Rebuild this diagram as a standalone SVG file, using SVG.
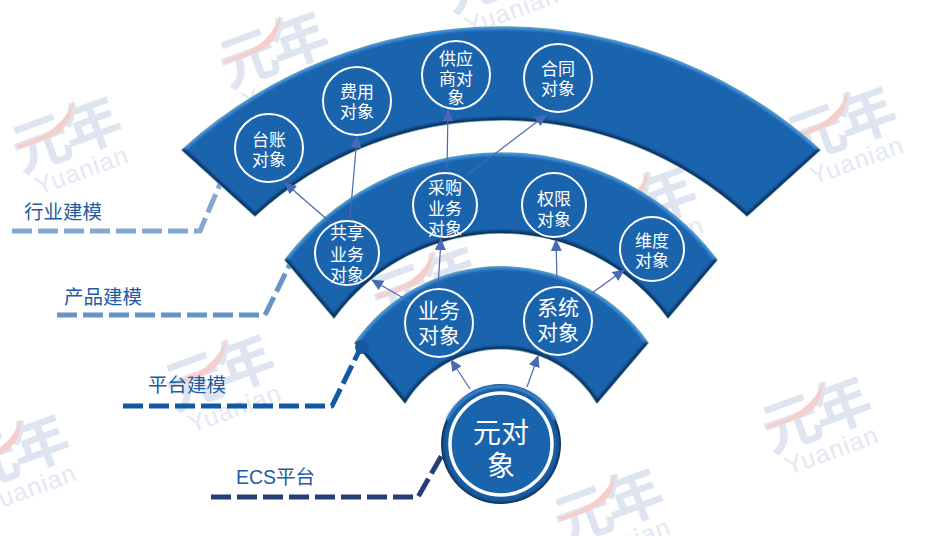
<svg xmlns="http://www.w3.org/2000/svg" width="925" height="536" viewBox="0 0 925 536">
<style>
text{font-family:"Liberation Sans","Noto Sans CJK SC",sans-serif}
.band{fill:#1a63ad;stroke:#6aa6a4;stroke-width:1.5}
.ring{fill:none;stroke:#fff;stroke-width:2}
.t{fill:#fff;font-size:17px;text-anchor:middle}
.t2{fill:#fff;font-size:21px;text-anchor:middle}
.lab{fill:#1f5ca6;font-size:19.5px}
.arr{stroke:#4a68b4;stroke-width:1.2;fill:none;marker-end:url(#ah)}
.lead{fill:none;stroke-width:5;stroke-dasharray:20 6;stroke-linejoin:round}
.hi{fill:none;stroke:#3f8fe0;stroke-width:5;filter:url(#b)}
.lo{fill:none;stroke:#0a2f5e;stroke-width:5;filter:url(#b)}
</style>
<defs>
<marker id="ah" markerUnits="userSpaceOnUse" markerWidth="13" markerHeight="11" refX="11" refY="5.5" orient="auto"><path d="M0,0L12,5.5L0,11z" fill="#4a68b4"/></marker>
<filter id="b" x="-5%" y="-5%" width="110%" height="110%"><feGaussianBlur stdDeviation="1.2"/></filter>
<path id="s1" d="M182,150A475,475 0 0 1 820,150L747,216A363,363 0 0 0 255,216Z"/>
<path id="s2" d="M285,260A271.5,271.5 0 0 1 717,260L668,318A206.5,206.5 0 0 0 334,318Z"/>
<path id="s3" d="M355,343A179,179 0 0 1 648,343L597,403A112,112 0 0 0 405,403Z"/>
<clipPath id="c1"><use href="#s1"/></clipPath>
<clipPath id="c2"><use href="#s2"/></clipPath>
<clipPath id="c3"><use href="#s3"/></clipPath>
<radialGradient id="g0" cx="50%" cy="50%" r="50%"><stop offset="0.86" stop-color="#1a63ad"/><stop offset="0.95" stop-color="#165596"/><stop offset="1" stop-color="#0b2a52"/></radialGradient>
<g id="wm">
<text transform="translate(6,78) rotate(-20)" font-size="58" font-weight="700" fill="#dfe5f0" letter-spacing="-4">元年</text>
<path d="M2,50C30,42 50,30 58,5C58,22 52,30 46,36C34,44 16,50 3,54Z" fill="#f5cfcb"/>
<text transform="translate(24,100) rotate(-20)" font-size="25" fill="#e3e8f2" letter-spacing="1">Yuanian</text>
</g>
</defs>
<rect width="925" height="536" fill="#fff"/>
<g id="watermarks">
<use href="#wm" x="15" y="95"/>
<use href="#wm" x="222" y="10"/>
<use href="#wm" x="790" y="85"/>
<use href="#wm" x="765" y="375"/>
<use href="#wm" x="557" y="467"/>
<use href="#wm" x="-37" y="413"/>
<use href="#wm" x="168" y="333"/>
<use href="#wm" x="375" y="245"/>
<use href="#wm" x="590" y="165"/>
<use href="#wm" x="445" y="-65"/>
</g>
<g id="connectors-leaders">
<path class="lead" stroke="#84a8d2" d="M12,231H200L226,170"/>
<circle cx="227" cy="170" r="6" fill="#84a8d2"/>
<path class="lead" stroke="#6594c8" d="M57,315H265L292,260"/>
<path class="lead" stroke="#1158a5" d="M123,406H332L362,345"/>
<path class="lead" stroke="#253e78" d="M211,497H418L442,455"/>
</g>
<g id="band-top">
<use href="#s1" class="band"/>
<g clip-path="url(#c1)"><path class="hi" d="M182,150A475,475 0 0 1 820,150"/><path class="lo" d="M820,150L747,216A363,363 0 0 0 255,216L182,150"/></g>
</g>
<g id="band-mid">
<use href="#s2" class="band"/>
<g clip-path="url(#c2)"><path class="hi" d="M285,260A271.5,271.5 0 0 1 717,260"/><path class="lo" d="M717,260L668,318A206.5,206.5 0 0 0 334,318L285,260"/></g>
</g>
<g id="band-low">
<use href="#s3" class="band"/>
<g clip-path="url(#c3)"><path class="hi" d="M355,343A179,179 0 0 1 648,343"/><path class="lo" d="M648,343L597,403A112,112 0 0 0 405,403L355,343"/></g>
<circle cx="362" cy="347" r="7" fill="#16589f"/>
</g>
<g id="connectors">
<path class="arr" d="M470,389L451,360"/>
<path class="arr" d="M527,387L538,356"/>
<path class="arr" d="M412,303L372,280"/>
<path class="arr" d="M438,288L441,239"/>
<path class="arr" d="M557,280L556,240"/>
<path class="arr" d="M592,293L624,270"/>
<path class="arr" d="M330,222L285,183"/>
<path class="arr" d="M350,218L357,137"/>
<path class="arr" d="M447,170L448,110"/>
<path class="arr" d="M467,175L546,115"/>
</g>
<g id="n-taizhang"><circle class="ring" cx="269" cy="148" r="34"/><text class="t" x="269" y="146">台账<tspan x="269" dy="20">对象</tspan></text></g>
<g id="n-feiyong"><circle class="ring" cx="357" cy="101" r="34"/><text class="t" x="357" y="98">费用<tspan x="357" dy="20">对象</tspan></text></g>
<g id="n-gongying"><circle class="ring" cx="456" cy="75" r="34"/><text class="t" x="456" y="65">供应<tspan x="456" dy="20">商对</tspan><tspan x="456" dy="19">象</tspan></text></g>
<g id="n-hetong"><circle class="ring" cx="558" cy="78" r="34"/><text class="t" x="558" y="75">合同<tspan x="558" dy="20">对象</tspan></text></g>
<g id="n-gongxiang"><circle class="ring" cx="347" cy="253" r="32"/><text class="t" x="347" y="239">共享<tspan x="347" dy="22">业务</tspan><tspan x="347" dy="20">对象</tspan></text></g>
<g id="n-caigou"><circle class="ring" cx="445" cy="205" r="32"/><text class="t" x="445" y="194">采购<tspan x="445" dy="21">业务</tspan><tspan x="445" dy="20">对象</tspan></text></g>
<g id="n-quanxian"><circle class="ring" cx="554" cy="205" r="32"/><text class="t" x="554" y="205">权限<tspan x="554" dy="21">对象</tspan></text></g>
<g id="n-weidu"><circle class="ring" cx="652" cy="249" r="32"/><text class="t" x="652" y="247">维度<tspan x="652" dy="20">对象</tspan></text></g>
<g id="n-yewu"><circle class="ring" cx="439" cy="323" r="34"/><text class="t2" x="439" y="318">业务<tspan x="439" dy="25">对象</tspan></text></g>
<g id="n-xitong"><circle class="ring" cx="558" cy="321" r="34"/><text class="t2" x="558" y="315">系统<tspan x="558" dy="25">对象</tspan></text></g>
<g id="n-yuan">
<circle cx="501" cy="444" r="60" fill="url(#g0)"/>
<path d="M447,420A60,60 0 0 1 555,420" fill="none" stroke="#3f8fe0" stroke-width="3" filter="url(#b)"/>
<circle cx="501" cy="444" r="51" fill="none" stroke="#fff" stroke-width="3.5"/>
<text x="501" y="443" fill="#fff" font-size="28" text-anchor="middle">元对<tspan x="501" dy="33">象</tspan></text>
</g>
<g id="labels">
<text class="lab" x="24" y="219">行业建模</text>
<text class="lab" x="64" y="304">产品建模</text>
<text class="lab" x="148" y="392">平台建模</text>
<text class="lab" x="236" y="484">ECS平台</text>
</g>
</svg>
